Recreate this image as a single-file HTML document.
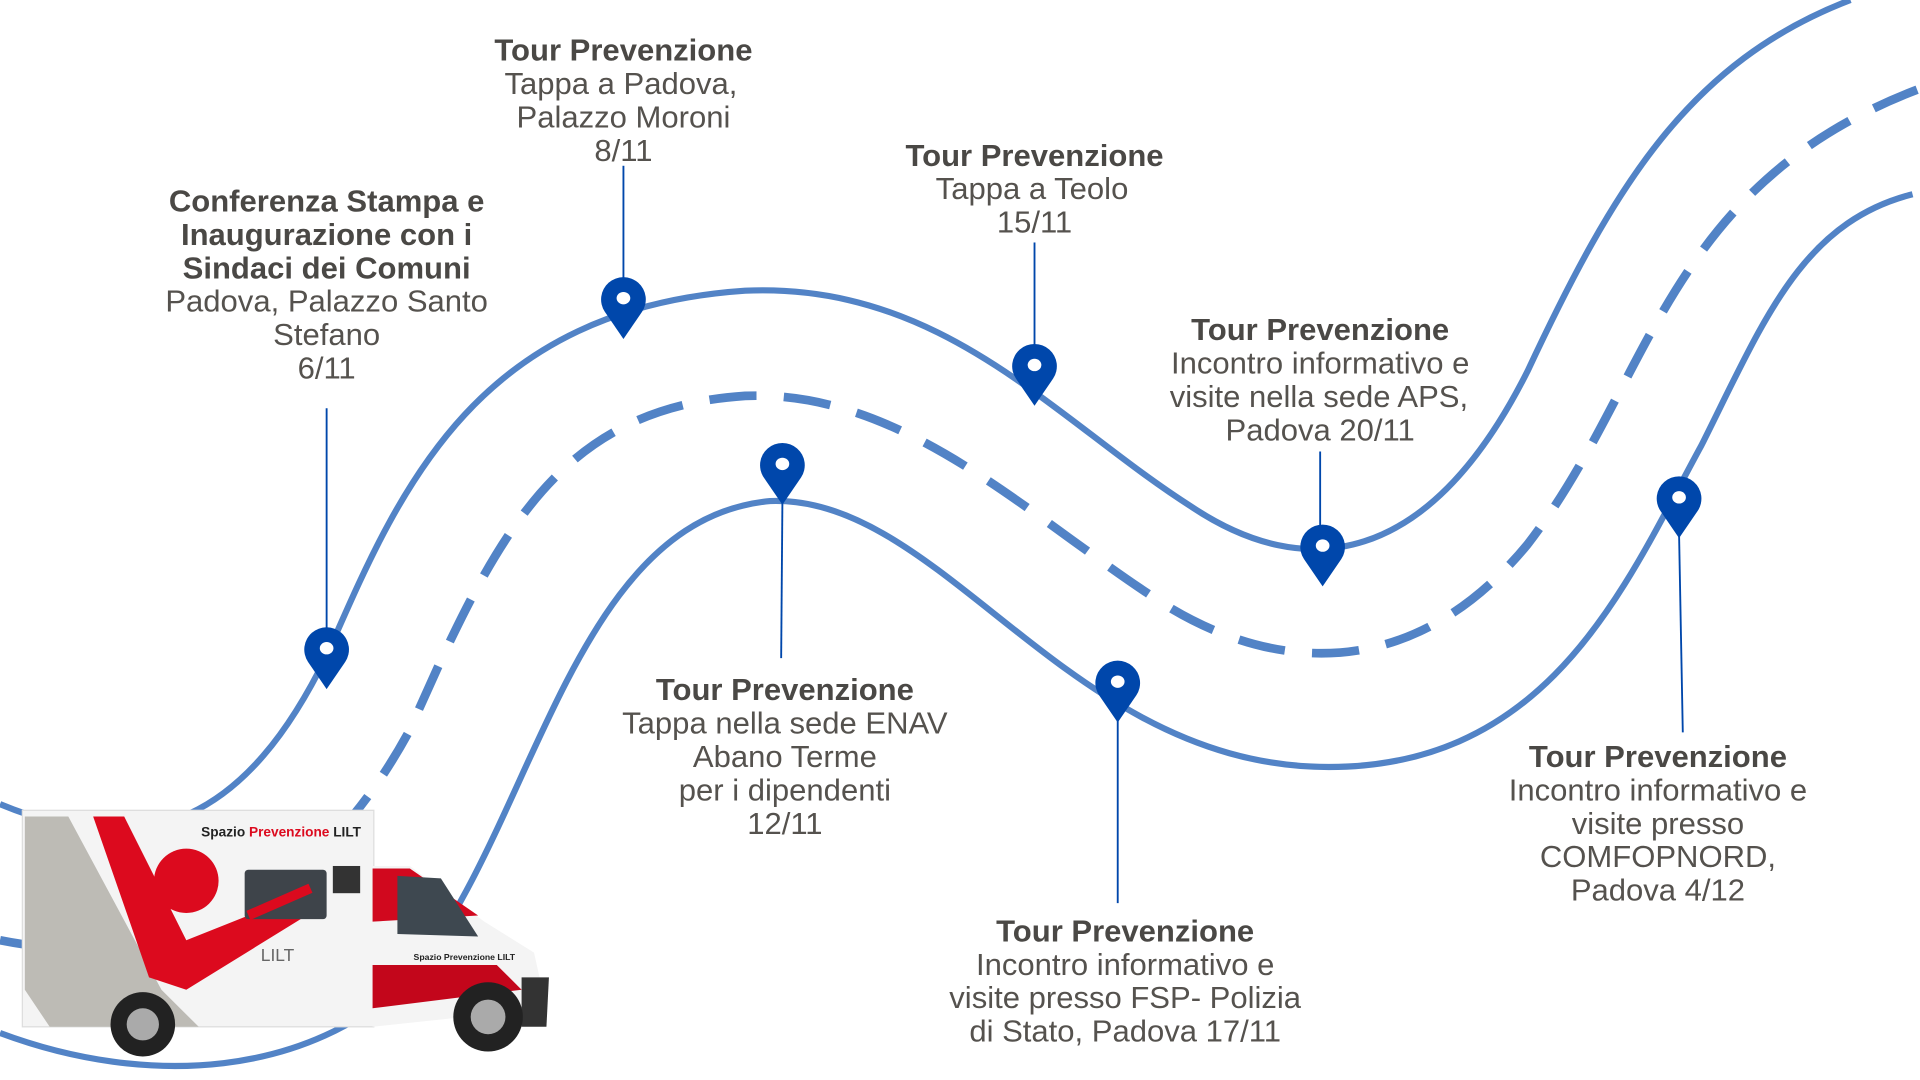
<!DOCTYPE html>
<html><head><meta charset="utf-8"><style>
html,body{margin:0;padding:0;background:#fff;width:1920px;height:1080px;overflow:hidden}
svg{display:block}
.b{font-family:"Liberation Sans",sans-serif;font-weight:bold;font-size:25px;fill:#4a4845}
.r{font-family:"Liberation Sans",sans-serif;font-size:25px;fill:#55524e}
</style></head><body>
<svg width="1920" height="1080" viewBox="0 0 1546 873" preserveAspectRatio="none" xmlns="http://www.w3.org/2000/svg">
<defs>
<g id="pin"><path d="M0,0 L-15,-22 A18,18 0 1 1 15,-22 Z" fill="#0047AB"/><ellipse cx="0" cy="-33" rx="5.5" ry="5" fill="#fff"/></g>
</defs>
<g fill="none" stroke="#5283c6" stroke-width="5">
<path d="M0,650 C120,700 200,660 263,530 C320,400 380,250 600,235 C760,228 850,340 960,410 C1050,470 1150,460 1230,300 C1300,150 1360,50 1490,0"/>
<path d="M0,760 C150,790 260,720 330,590 C400,430 450,330 600,320 C730,315 830,420 940,490 C1030,545 1140,550 1230,440 C1330,310 1340,150 1545,72" stroke-width="7" stroke-dasharray="38,22"/>
<path d="M0,835 C120,880 250,870 330,790 C430,670 460,420 620,405 C760,400 860,620 1070,620 C1250,620 1310,470 1370,360 C1420,260 1450,180 1540,157"/>
</g>
<g stroke="#0047AB" stroke-width="1.5">
<line x1="263" y1="330" x2="263" y2="520"/><line x1="502" y1="134" x2="502" y2="235"/>
<line x1="833" y1="196" x2="833" y2="290"/><line x1="1063" y1="365" x2="1063" y2="435"/>
<line x1="630" y1="405" x2="629" y2="532"/><line x1="900" y1="582" x2="900" y2="730"/>
<line x1="1352" y1="432" x2="1355" y2="592"/>
</g>
<use href="#pin" x="263" y="557"/><use href="#pin" x="502" y="274"/><use href="#pin" x="833" y="328"/>
<use href="#pin" x="630" y="408"/><use href="#pin" x="1065" y="474"/><use href="#pin" x="900" y="584"/><use href="#pin" x="1352" y="435"/>
<g text-anchor="middle">
<text class="b" x="263" y="171">Conferenza Stampa e</text><text class="b" x="263" y="198">Inaugurazione con i</text><text class="b" x="263" y="225">Sindaci dei Comuni</text>
<text class="r" x="263" y="252">Padova, Palazzo Santo</text><text class="r" x="263" y="279">Stefano</text><text class="r" x="263" y="306">6/11</text>
<text class="b" x="502" y="49">Tour Prevenzione</text><text class="r" x="500" y="76">Tappa a Padova,</text><text class="r" x="502" y="103">Palazzo Moroni</text><text class="r" x="502" y="130">8/11</text>
<text class="b" x="833" y="134">Tour Prevenzione</text><text class="r" x="831" y="161">Tappa a Teolo</text><text class="r" x="833" y="188">15/11</text>
<text class="b" x="1063" y="275">Tour Prevenzione</text><text class="r" x="1063" y="302">Incontro informativo e</text><text class="r" x="1062" y="329">visite nella sede APS,</text><text class="r" x="1063" y="356">Padova 20/11</text>
<text class="b" x="632" y="566">Tour Prevenzione</text><text class="r" x="632" y="593">Tappa nella sede ENAV</text><text class="r" x="632" y="620">Abano Terme</text><text class="r" x="632" y="647">per i dipendenti</text><text class="r" x="632" y="674">12/11</text>
<text class="b" x="906" y="761">Tour Prevenzione</text><text class="r" x="906" y="788">Incontro informativo e</text><text class="r" x="906" y="815">visite presso FSP- Polizia</text><text class="r" x="906" y="842">di Stato, Padova 17/11</text>
<text class="b" x="1335" y="620">Tour Prevenzione</text><text class="r" x="1335" y="647">Incontro informativo e</text><text class="r" x="1335" y="674">visite presso</text><text class="r" x="1335" y="701">COMFOPNORD,</text><text class="r" x="1335" y="728">Padova 4/12</text>
</g>
<!-- truck -->
<g>
<rect x="18" y="655" width="283" height="175" fill="#f4f4f4" stroke="#ddd"/>
<path d="M20,660 L55,660 L130,800 L160,830 L40,830 L20,800Z" fill="#bdbbb5"/>
<path d="M75,660 L100,660 L150,760 L250,720 L255,735 L150,800 L120,790Z" fill="#dc0a1e"/>
<circle cx="150" cy="712" r="26" fill="#dc0a1e"/>
<rect x="197" y="703" width="66" height="40" rx="3" fill="#3e444a"/>
<path d="M200,740 L250,718" stroke="#dc0a1e" stroke-width="8"/>
<text x="162" y="676" font-family="Liberation Sans,sans-serif" font-size="11" font-weight="bold" fill="#222">Spazio <tspan fill="#dc0a1e">Prevenzione</tspan> LILT</text>
<rect x="268" y="700" width="22" height="22" fill="#333"/>
<text x="210" y="777" font-family="Liberation Sans,sans-serif" font-size="14" fill="#666">LILT</text>
<path d="M300,700 L330,700 L390,745 L430,770 L440,815 L300,830Z" fill="#f4f4f4"/>
<path d="M300,702 L330,702 L385,740 L300,745Z" fill="#d1081e"/>
<path d="M300,780 L400,780 L420,800 L300,815Z" fill="#c3061b"/>
<path d="M320,708 L355,710 L385,757 L320,755Z" fill="#3e4850"/>
<text x="333" y="776" font-family="Liberation Sans,sans-serif" font-size="7" font-weight="bold" fill="#222">Spazio Prevenzione LILT</text>
<path d="M420,790 L442,790 L440,830 L420,830Z" fill="#333"/>
<circle cx="115" cy="828" r="26" fill="#222"/><circle cx="115" cy="828" r="13" fill="#aaa"/>
<circle cx="393" cy="822" r="28" fill="#222"/><circle cx="393" cy="822" r="14" fill="#aaa"/>
</g>
</svg>
</body></html>
